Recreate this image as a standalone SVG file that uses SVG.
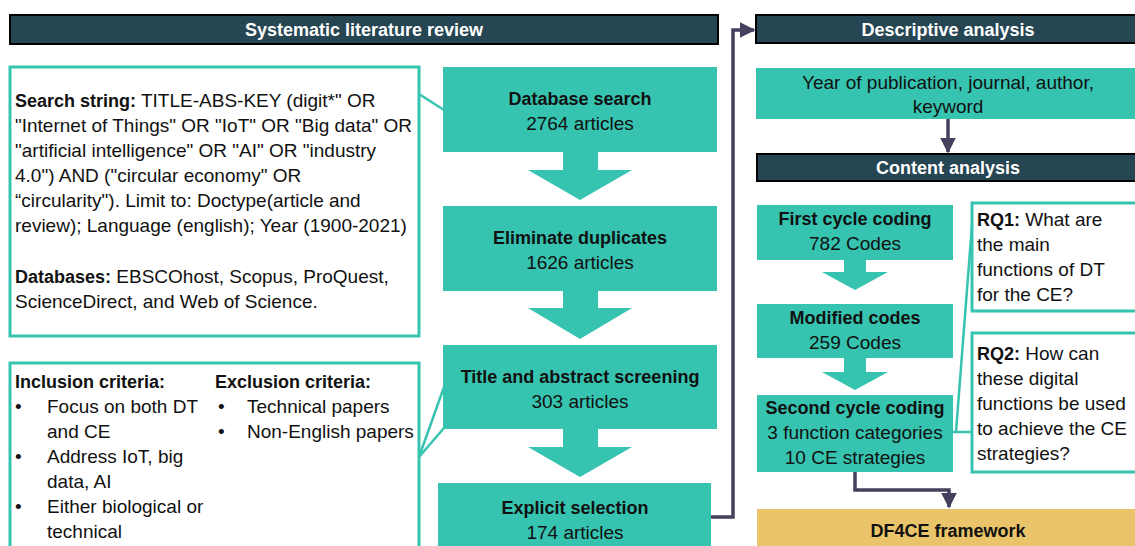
<svg xmlns="http://www.w3.org/2000/svg" width="1135" height="546" viewBox="0 0 1135 546">
<style>
text{font-family:"Liberation Sans",Arial,sans-serif;fill:#111;}
.hdr{fill:#264653;stroke:#000;stroke-width:2;}
.ht{fill:#fff;font-weight:bold;font-size:18px;text-anchor:middle;}
.tb{fill:#36c3b0;}
.ob{fill:#fff;stroke:#36c3b0;stroke-width:3;}
.b{font-weight:bold;font-size:18px;}
.r{font-size:19px;}
.c{text-anchor:middle;}
.tl{stroke:#36c3b0;stroke-width:2.5;fill:none;}
.pl{stroke:#463f5e;stroke-width:3.5;fill:none;}
</style>
<defs>
<marker id="ah" viewBox="0 0 10 10" refX="9" refY="5" markerWidth="4.5" markerHeight="4.5" orient="auto" markerUnits="strokeWidth">
<path d="M0,0 L10,5 L0,10 z" fill="#463f5e"/>
</marker>
</defs>
<rect width="1135" height="546" fill="#fff"/>

<g id="hdr-slr">
<rect class="hdr" x="10" y="15" width="708" height="29"/>
<text class="ht" x="364" y="36">Systematic literature review</text>
</g>

<g id="search-box">
<rect class="ob" x="10" y="67" width="409" height="269"/>
<text class="r" x="15">
<tspan x="15" y="107"><tspan class="b" font-size="19">Search string:</tspan> TITLE-ABS-KEY (digit*" OR</tspan>
<tspan x="15" y="132">"Internet of Things" OR "IoT" OR "Big data" OR</tspan>
<tspan x="15" y="157">"artificial intelligence" OR "AI" OR "industry</tspan>
<tspan x="15" y="182">4.0") AND ("circular economy" OR</tspan>
<tspan x="15" y="207">“circularity"). Limit to: Doctype(article and</tspan>
<tspan x="15" y="232">review); Language (english); Year (1900-2021)</tspan>
<tspan x="15" y="283"><tspan class="b" font-size="19">Databases:</tspan> EBSCOhost, Scopus, ProQuest,</tspan>
<tspan x="15" y="308">ScienceDirect, and Web of Science.</tspan>
</text>
</g>

<g id="criteria-box">
<rect class="ob" x="10" y="363" width="409" height="200"/>
<text class="b" x="15" y="388" font-size="19">Inclusion criteria:</text>
<text class="r" x="15" y="413">•</text>
<text class="r" x="47" y="413">Focus on both DT</text>
<text class="r" x="47" y="438">and CE</text>
<text class="r" x="15" y="463">•</text>
<text class="r" x="47" y="463">Address IoT, big</text>
<text class="r" x="47" y="488">data, AI</text>
<text class="r" x="15" y="513">•</text>
<text class="r" x="47" y="513">Either biological or</text>
<text class="r" x="47" y="538">technical</text>
<text class="b" x="215" y="388" font-size="19">Exclusion criteria:</text>
<text class="r" x="218" y="413">•</text>
<text class="r" x="247" y="413">Technical papers</text>
<text class="r" x="218" y="438">•</text>
<text class="r" x="247" y="438">Non-English papers</text>
</g>

<g id="db-search">
<rect class="tb" x="443" y="67" width="274" height="85"/>
<text class="b c" x="580" y="105">Database search</text>
<text class="r c" x="580" y="130">2764 articles</text>
</g>
<g id="eliminate">
<rect class="tb" x="443" y="206" width="274" height="85"/>
<text class="b c" x="580" y="244">Eliminate duplicates</text>
<text class="r c" x="580" y="269">1626 articles</text>
</g>
<g id="title-screen">
<rect class="tb" x="443" y="345" width="274" height="84"/>
<text class="b c" x="580" y="383">Title and abstract screening</text>
<text class="r c" x="580" y="408">303 articles</text>
</g>
<g id="explicit">
<rect class="tb" x="438" y="483" width="273" height="80"/>
<text class="b c" x="575" y="514">Explicit selection</text>
<text class="r c" x="575" y="539">174 articles</text>
</g>

<g id="hdr-desc">
<rect class="hdr" x="756" y="15" width="390" height="28"/>
<text class="ht" x="948" y="36">Descriptive analysis</text>
</g>
<g id="desc-box">
<rect class="tb" x="756" y="68" width="390" height="51"/>
<text class="r c" x="948" y="89">Year of publication, journal, author,</text>
<text class="r c" x="948" y="113">keyword</text>
</g>
<g id="hdr-content">
<rect class="hdr" x="757" y="154" width="390" height="27"/>
<text class="ht" x="948" y="174">Content analysis</text>
</g>
<g id="first-cycle">
<rect class="tb" x="757" y="205" width="196" height="55"/>
<text class="b c" x="855" y="225">First cycle coding</text>
<text class="r c" x="855" y="250">782 Codes</text>
</g>
<g id="modified">
<rect class="tb" x="757" y="304" width="196" height="54"/>
<text class="b c" x="855" y="324">Modified codes</text>
<text class="r c" x="855" y="349">259 Codes</text>
</g>
<g id="second-cycle">
<rect class="tb" x="757" y="395" width="196" height="77"/>
<text class="b c" x="855" y="414">Second cycle coding</text>
<text class="r c" x="855" y="439">3 function categories</text>
<text class="r c" x="855" y="464">10 CE strategies</text>
</g>
<g id="rq1">
<rect class="ob" x="972" y="203" width="180" height="108"/>
<text class="r" x="977" y="226"><tspan class="b" font-size="19">RQ1:</tspan> What are</text>
<text class="r" x="977" y="251">the main</text>
<text class="r" x="977" y="276">functions of DT</text>
<text class="r" x="977" y="301">for the CE?</text>
</g>
<g id="rq2">
<rect class="ob" x="972" y="333" width="180" height="139"/>
<text class="r" x="977" y="360"><tspan class="b" font-size="19">RQ2:</tspan> How can</text>
<text class="r" x="977" y="385">these digital</text>
<text class="r" x="977" y="410">functions be used</text>
<text class="r" x="977" y="435">to achieve the CE</text>
<text class="r" x="977" y="460">strategies?</text>
</g>
<g id="df4ce">
<rect x="757" y="509" width="390" height="50" fill="#e9c46a"/>
<text class="b c" x="948" y="537">DF4CE framework</text>
</g>

<g id="connectors">
<polygon class="tb" points="563,151 598,151 598,170 632,170 580,200 528,170 563,170"/>
<polygon class="tb" points="563,290 598,290 598,308 632,308 580,339 528,308 563,308"/>
<polygon class="tb" points="563,428 598,428 598,447 632,447 580,477 528,447 563,447"/>
<polygon class="tb" points="844,259 866,259 866,272 888,272 855,290 822,272 844,272"/>
<polygon class="tb" points="844,357 866,357 866,372 888,372 855,390 822,372 844,372"/>
<line class="tl" x1="419" y1="94" x2="444" y2="110"/>
<line class="tl" x1="419" y1="457" x2="444" y2="387"/>
<line class="tl" x1="419" y1="457" x2="444" y2="428"/>
<line class="tl" x1="953" y1="432" x2="972" y2="432"/>
<line class="tl" x1="956" y1="432" x2="972" y2="225"/>
<path class="pl" d="M711,517 H733 V30 H754" marker-end="url(#ah)"/>
<path class="pl" d="M948,119 V152" marker-end="url(#ah)"/>
<path class="pl" d="M855,472 V490 H949 V507" marker-end="url(#ah)"/>
</g>
</svg>
